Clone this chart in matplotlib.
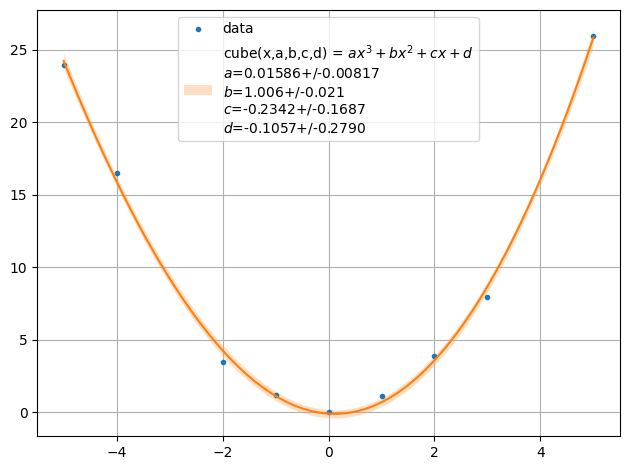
import numpy as np
import matplotlib.pyplot as plt

# data points
x_data = [-5, -4, -2, -1, 0, 1, 2, 3, 5]
y_data = [23.96, 16.48, 3.46, 1.18, 0.0, 1.10, 3.88, 7.96, 25.97]

# fit parameters from the legend
a, b, c, d = 0.01586, 1.006, -0.2342, -0.1057
d_err = 0.2790


def cube(x, a, b, c, d):
    return a * x**3 + b * x**2 + c * x + d


# covariance of the cubic least squares fit, for the uncertainty band
X = np.vander(np.array(x_data, float), 4)
Y = np.array(y_data)
p, res, _, _ = np.linalg.lstsq(X, Y, rcond=None)
cov = np.linalg.inv(X.T @ X)
cov = cov * d_err**2 / cov[3, 3]   # scale so that sigma(d) matches the legend

xs = np.linspace(-5, 5, 200)
Vx = np.vander(xs, 4)
yfit = cube(xs, a, b, c, d)
dy = np.sqrt(np.einsum('ij,jk,ik->i', Vx, cov, Vx))

label = ('cube(x,a,b,c,d) = $ax^3 + bx^2 + cx + d$\n'
         '$a$=0.01586+/-0.00817\n'
         '$b$=1.006+/-0.021\n'
         '$c$=-0.2342+/-0.1687\n'
         '$d$=-0.1057+/-0.2790')

fig, ax = plt.subplots(figsize=(6.3, 4.7), dpi=100)
ax.plot(x_data, y_data, '.', color='C0', label='data')
ax.fill_between(xs, yfit - dy, yfit + dy, color='C1', alpha=0.25, label=label, lw=0)
ax.plot(xs, yfit, color='C1')
ax.grid(True)
ax.set_xlim(-5.5, 5.5)
ax.set_ylim(-1.66, 27.76)
ax.legend(loc='upper center')
fig.subplots_adjust(left=0.059, right=0.984, top=0.979, bottom=0.072)
plt.savefig('out.png')
